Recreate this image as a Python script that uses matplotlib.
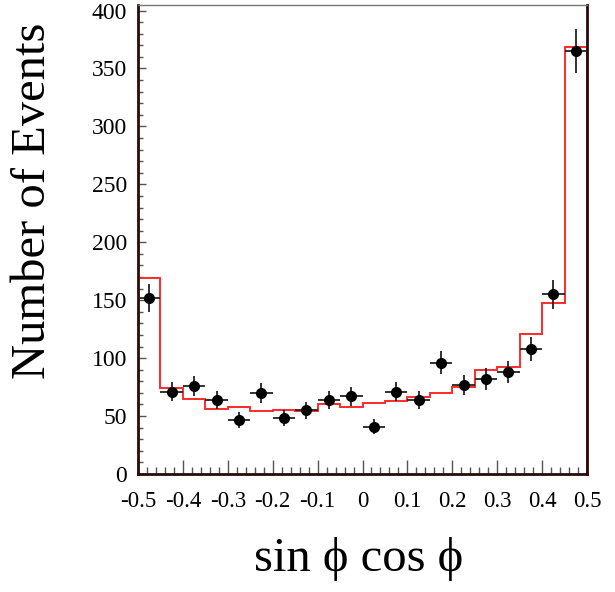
import numpy as np
import matplotlib
matplotlib.use("Agg")
import matplotlib.pyplot as plt
from matplotlib.ticker import MultipleLocator

plt.rcParams['font.family'] = ['Liberation Serif', 'DejaVu Serif']

# bin edges of sin(phi)cos(phi), 20 bins from -0.5 to 0.5
edges = np.linspace(-0.5, 0.5, 21)
centers = 0.5 * (edges[:-1] + edges[1:])

# measured counts with errors
data = [152, 71, 76, 64, 47, 70, 48, 55, 64, 67,
        41, 71, 64, 96, 77, 82, 88, 108, 155, 365]
data_err = [12.3, 8.4, 8.7, 8.0, 6.9, 8.4, 6.9, 7.4, 8.0, 8.2,
            6.4, 8.4, 8.0, 9.8, 8.8, 9.1, 9.4, 10.4, 12.4, 19.1]

# MC expectation
mc = [169.5, 74.5, 65, 56.4, 57.6, 54.7, 55.5, 54.4, 60.5, 57.9,
      61.6, 63.3, 66.8, 70.2, 75.1, 90, 92.7, 120.6, 147.4, 368.5]

fig = plt.figure(figsize=(6.15, 5.92), dpi=100)
ax = fig.add_axes([0.2244, 0.1993, 0.9545 - 0.2244, 0.992 - 0.1993])

ax.stairs(mc, edges, color='#ff2a2a', linewidth=1.4, zorder=2)
ax.errorbar(centers, data, yerr=data_err, xerr=0.025, fmt='o',
            color='black', ecolor='#222222', elinewidth=1.3,
            markersize=7, capsize=0, zorder=3)

ax.set_xlim(-0.5, 0.5)
ax.set_ylim(0, 405)

ax.xaxis.set_minor_locator(MultipleLocator(0.02))
ax.yaxis.set_major_locator(MultipleLocator(50))
ax.yaxis.set_minor_locator(MultipleLocator(10))
ax.set_xticks(np.round(np.arange(-0.5, 0.51, 0.1), 1))
ax.set_xticklabels(['-0.5', '-0.4', '-0.3', '-0.2', '-0.1', '0',
                    '0.1', '0.2', '0.3', '0.4', '0.5'])

ax.tick_params(axis='x', which='major', direction='in', length=10,
               width=1, color='#555555', labelsize=16.5, pad=12)
ax.tick_params(axis='x', which='minor', direction='in', length=5,
               width=1, color='#555555')
ax.tick_params(axis='y', which='major', direction='in', length=6,
               width=1, color='#555555', labelsize=17, pad=8)
ax.tick_params(axis='y', which='minor', direction='in', length=3.5,
               width=1, color='#555555')

for side in ['left', 'bottom', 'right']:
    ax.spines[side].set_color('#2a0a0a')
    ax.spines[side].set_linewidth(2)
ax.spines['top'].set_color('#777777')
ax.spines['top'].set_linewidth(1)

fig.text(0.054, 0.66, 'Number of Events', rotation=90, fontsize=35,
         ha='center', va='center')
fig.text(0.583, 0.055, 'sin \u03d5 cos \u03d5', fontsize=35,
         ha='center', va='center')

fig.savefig('out.png', dpi=100)
